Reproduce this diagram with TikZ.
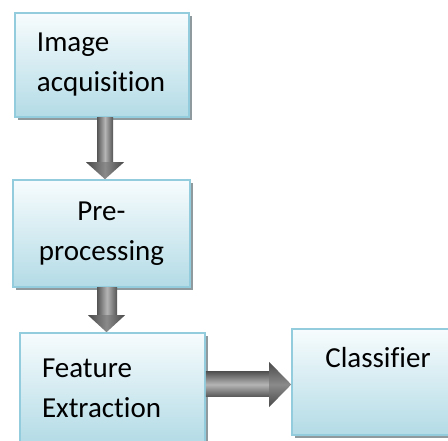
\documentclass[tikz,border=0pt]{standalone}
\usepackage{fontspec}
\setmainfont{Carlito}[Ligatures=NoCommon]
\usetikzlibrary{shadows,calc}
\definecolor{boxline}{HTML}{93CDDD}
\definecolor{boxtop}{HTML}{F7FCFD}
\definecolor{boxbottom}{HTML}{B3DBE6}
\definecolor{shadowgray}{HTML}{8E9A9E}
\definecolor{arrowedge}{HTML}{555555}
\definecolor{arrowmid}{HTML}{B5B5B5}
\definecolor{headdark}{HTML}{4A4A4A}
\definecolor{headmid}{HTML}{8A8A8A}
\tikzset{
  stage/.style={draw=boxline, line width=1.6pt, top color=boxtop, bottom color=boxbottom,
    drop shadow={shadow xshift=3pt, shadow yshift=-3pt, fill=shadowgray, opacity=1},
    font=\fontsize{29}{40}\selectfont, inner ysep=0pt},
  vshaft/.style={left color=arrowedge, right color=arrowedge, middle color=arrowmid},
  vhead/.style={left color=headdark, right color=headdark, middle color=headmid},
  hshaft/.style={top color=arrowedge, bottom color=arrowedge, middle color=arrowmid},
  hhead/.style={top color=headdark, bottom color=headdark, middle color=headmid},
}
\begin{document}
\begin{tikzpicture}[x=1pt,y=1pt]
\useasboundingbox (0,0) rectangle (448,440);
% process stages
\node[stage, minimum width=174pt, minimum height=104pt, text width=130pt,
      inner xsep=22pt, align=left] (acq) at (102,375) {Image\\acquisition};
\node[stage, minimum width=177pt, minimum height=107pt, text width=140pt,
      align=center] (pre) at (101.5,206.5) {Pre-\\processing};
\node[stage, minimum width=185pt, minimum height=110pt, text width=141pt,
      inner xsep=22pt, align=left] (feat) at (112.5,52) {Feature\\Extraction};
\node[stage, minimum width=162pt, minimum height=106pt] (cls) at (373,58) {};
\node[font=\fontsize{29}{40}\selectfont, anchor=base] (clstext) at (378,72) {Classifier};
% block arrows between stages
\path let \p1=(acq.south), \p2=(pre.north) in
  [vshaft] (97,\y1) rectangle (113,\y2+17);
\path let \p2=(pre.north) in
  [vhead] (86,\y2+17) -- (124,\y2+17) -- (105,\y2) -- cycle;
\path let \p1=(pre.south), \p2=(feat.north) in
  [vshaft] (97,\y1) rectangle (117,\y2+17);
\path let \p2=(feat.north) in
  [vhead] (88,\y2+17) -- (125,\y2+17) -- (106.5,\y2) -- cycle;
\path let \p1=(feat.east), \p2=(cls.west) in
  [hshaft] (\x1,68) rectangle (\x2-22,43);
\path let \p2=(cls.west) in
  [hhead] (\x2-22,78) -- (\x2-22,33) -- (\x2,55.5) -- cycle;
\end{tikzpicture}
\end{document}
